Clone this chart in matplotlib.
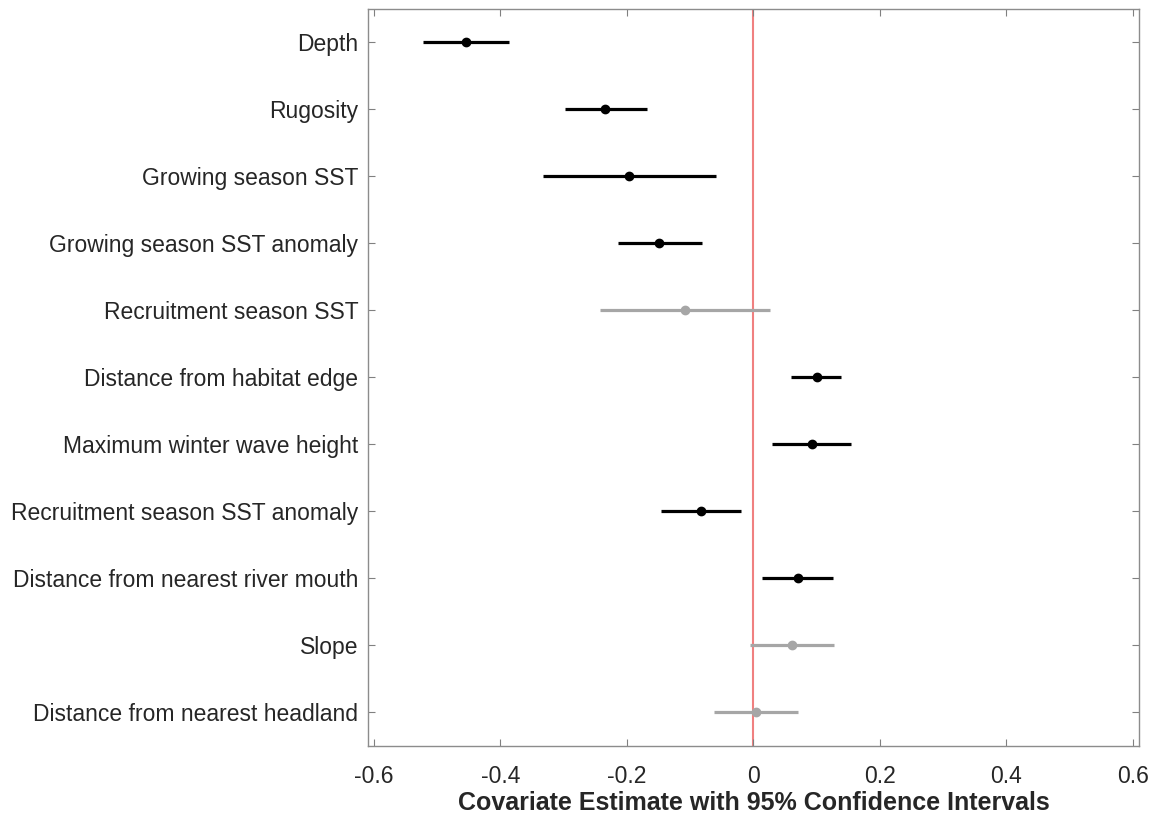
import matplotlib.pyplot as plt

# --- data (top to bottom) ---
covariates = [
    "Depth",
    "Rugosity",
    "Growing season SST",
    "Growing season SST anomaly",
    "Recruitment season SST",
    "Distance from habitat edge",
    "Maximum winter wave height",
    "Recruitment season SST anomaly",
    "Distance from nearest river mouth",
    "Slope",
    "Distance from nearest headland",
]
estimate = [-0.455, -0.234, -0.197, -0.149, -0.108, 0.100, 0.092, -0.083, 0.070, 0.061, 0.004]
ci_low = [-0.522, -0.298, -0.333, -0.214, -0.242, 0.060, 0.029, -0.146, 0.013, -0.006, -0.063]
ci_high = [-0.387, -0.169, -0.059, -0.082, 0.026, 0.138, 0.154, -0.019, 0.126, 0.127, 0.070]
significant = [True, True, True, True, False, True, True, True, True, False, False]
x_ticks = [-0.6, -0.4, -0.2, 0, 0.2, 0.4, 0.6]
x_ticklabels = ["-0.6", "-0.4", "-0.2", "0", "0.2", "0.4", "0.6"]

plt.rcParams['font.family'] = ['Liberation Sans', 'DejaVu Sans']

fig = plt.figure(figsize=(11.6, 8.16), dpi=100)
ax = fig.add_axes([0.3172, 0.0862, 0.6647, 0.9028])

# zero reference line
ax.axvline(0, color='#f08080', linewidth=1.5, zorder=1)

for i, name in enumerate(covariates):
    y = i + 1
    col = 'black' if significant[i] else '#a6a6a6'
    ax.plot([ci_low[i], ci_high[i]], [y, y], color=col, linewidth=2.3,
            solid_capstyle='butt', zorder=2)
    ax.plot(estimate[i], y, marker='o', markersize=6, color=col, zorder=3)

ax.set_xlim(-0.6095, 0.6095)
ax.set_ylim(11.5, 0.5)
ax.set_xticks(x_ticks)
ax.set_xticklabels(x_ticklabels)
ax.set_yticks(range(1, len(covariates) + 1))
ax.set_yticklabels(covariates)

ax.tick_params(axis='both', direction='in', length=5, width=0.8, color='#808080',
               labelsize=16.5, labelcolor='#262626', top=True, right=True)
ax.tick_params(axis='y', pad=7)
ax.tick_params(axis='x', pad=14)
for s in ax.spines.values():
    s.set_color('#8c8c8c')
    s.set_linewidth(1.0)

ax.set_xlabel("Covariate Estimate with 95% Confidence Intervals", fontsize=18,
              fontweight='bold', color='#262626', labelpad=2)

fig.savefig("out.png", dpi=100)
